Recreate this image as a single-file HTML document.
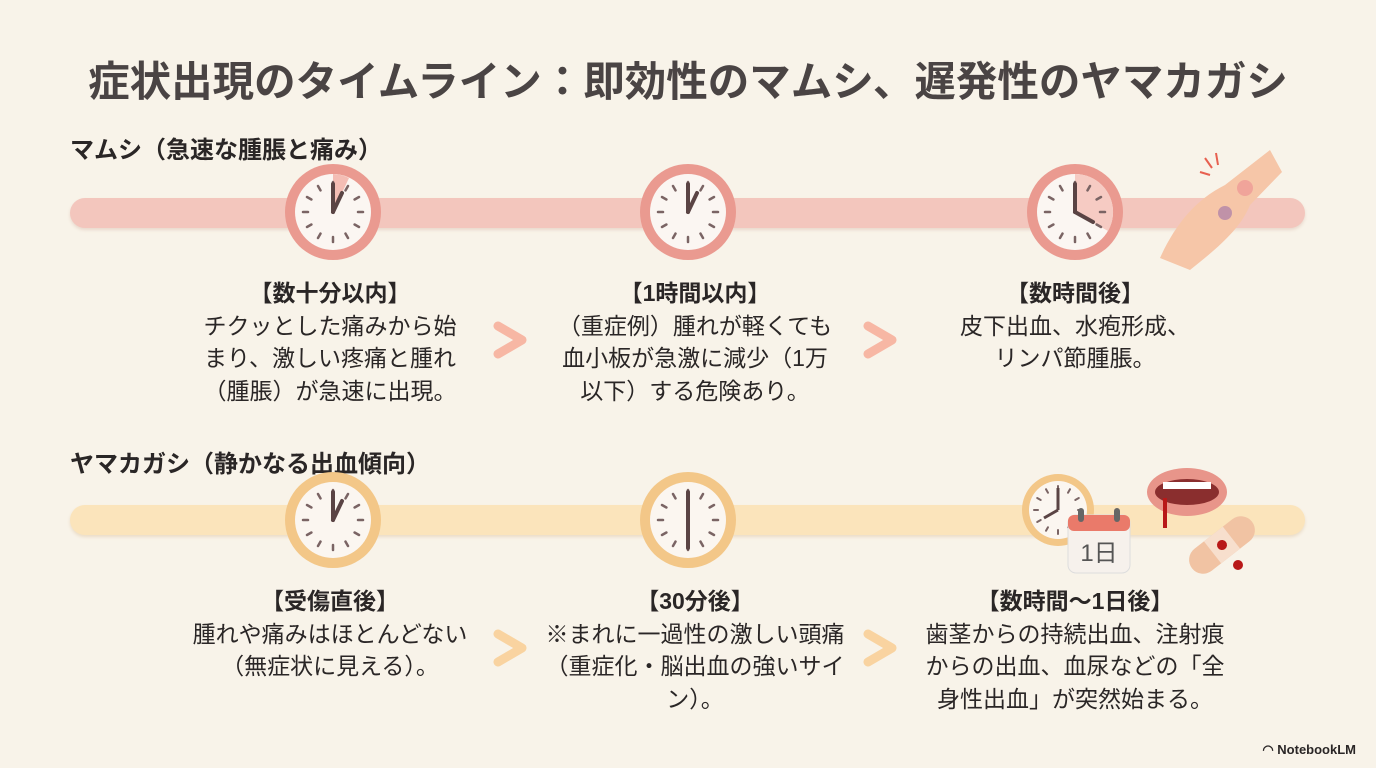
<!DOCTYPE html>
<html><head><meta charset="utf-8"><style>
body{margin:0;width:1376px;height:768px;background:#f8f3e9;font-family:"Liberation Sans","Noto Sans CJK JP",sans-serif;color:#2a2626;position:relative;overflow:hidden}
.a{position:absolute}
h1{position:absolute;left:0;width:1376px;top:48px;margin:0;text-align:center;font-size:41.5px;font-weight:bold;color:#4a4444;letter-spacing:0px}
.sec{font-size:24px;font-weight:bold;left:70px}
.bar{left:70px;width:1235px;height:30px;border-radius:15px}
.col{width:340px;text-align:center;font-size:23px;line-height:32.5px;white-space:nowrap}
.col b{display:block;font-size:23px}
.nb{right:20px;bottom:10px;font-size:13px;font-weight:bold}
</style></head><body>
<h1>症状出現のタイムライン：即効性のマムシ、遅発性のヤマカガシ</h1>
<div class="a sec" style="top:130px">マムシ（急速な腫脹と痛み）</div>
<div class="a sec" style="top:444px">ヤマカガシ（静かなる出血傾向）</div>
<div class="a bar" style="top:198px;background:#f3c6bd;box-shadow:0 2px 3px #e9d8cc"></div>
<div class="a bar" style="top:505px;background:#fbe4bb;box-shadow:0 2px 3px #ebdcc6"></div>

<svg class="a" style="left:0;top:0" width="1376" height="768">
<defs>
<g id="t"><g stroke="#7a6464" stroke-width="2.5" stroke-linecap="round">
<line x1="0" y1="-30" x2="0" y2="-25"/><line x1="0" y1="30" x2="0" y2="25"/><line x1="-30" y1="0" x2="-25" y2="0"/><line x1="30" y1="0" x2="25" y2="0"/>
<line x1="15" y1="-26" x2="12.5" y2="-21.6"/><line x1="26" y1="-15" x2="21.6" y2="-12.5"/><line x1="26" y1="15" x2="21.6" y2="12.5"/><line x1="15" y1="26" x2="12.5" y2="21.6"/>
<line x1="-15" y1="26" x2="-12.5" y2="21.6"/><line x1="-26" y1="15" x2="-21.6" y2="12.5"/><line x1="-26" y1="-15" x2="-21.6" y2="-12.5"/><line x1="-15" y1="-26" x2="-12.5" y2="-21.6"/></g></g>
</defs>
<g transform="translate(333,212)"><circle r="48" fill="#ea9a90"/><circle r="38" fill="#fbf6f2"/><path d="M0 0 L0 -38 A38 38 0 0 1 16 -34 Z" fill="#f4bdb4"/><use href="#t"/><line x1="0" y1="0" x2="0" y2="-28" stroke="#5a4444" stroke-width="4" stroke-linecap="round"/><line x1="0" y1="0" x2="9" y2="-19" stroke="#5a4444" stroke-width="4" stroke-linecap="round"/></g>
<g transform="translate(688,212)"><circle r="48" fill="#ea9a90"/><circle r="38" fill="#fbf6f2"/><use href="#t"/><line x1="0" y1="0" x2="0" y2="-28" stroke="#5a4444" stroke-width="4" stroke-linecap="round"/><line x1="0" y1="0" x2="9" y2="-19" stroke="#5a4444" stroke-width="4" stroke-linecap="round"/></g>
<g transform="translate(1075,212)"><circle r="48" fill="#ea9a90"/><circle r="38" fill="#fbf6f2"/><path d="M0 0 L0 -38 A38 38 0 0 1 33 19 Z" fill="#f6cbc3"/><use href="#t"/><line x1="0" y1="0" x2="0" y2="-28" stroke="#5a4444" stroke-width="4" stroke-linecap="round"/><line x1="0" y1="0" x2="18" y2="10" stroke="#5a4444" stroke-width="4" stroke-linecap="round"/></g>
<g transform="translate(333,520)"><circle r="48" fill="#f3c788"/><circle r="38" fill="#fbf6f0"/><use href="#t"/><line x1="0" y1="0" x2="0" y2="-28" stroke="#5a4444" stroke-width="4" stroke-linecap="round"/><line x1="0" y1="0" x2="9" y2="-19" stroke="#5a4444" stroke-width="4" stroke-linecap="round"/></g>
<g transform="translate(688,520)"><circle r="48" fill="#f3c788"/><circle r="38" fill="#fbf6f0"/><use href="#t"/><line x1="0" y1="-28" x2="0" y2="28" stroke="#5a4444" stroke-width="4" stroke-linecap="round"/></g>
<g transform="translate(1058,510)"><circle r="36" fill="#f3c788"/><circle r="29" fill="#fbf6f0"/><g transform="scale(0.8)"><use href="#t"/></g><line x1="0" y1="0" x2="0" y2="-22" stroke="#5a4444" stroke-width="3"/><line x1="0" y1="0" x2="-14" y2="8" stroke="#5a4444" stroke-width="3"/></g>
<rect x="1068" y="515" width="62" height="58" rx="8" fill="#f6f1ec" stroke="#ddd" />
<rect x="1068" y="515" width="62" height="16" rx="6" fill="#ea7a6a"/>
<rect x="1078" y="508" width="6" height="14" rx="3" fill="#666"/><rect x="1114" y="508" width="6" height="14" rx="3" fill="#666"/>
<text x="1099" y="561" text-anchor="middle" font-size="24" fill="#555" font-family="Liberation Sans,Noto Sans CJK JP,sans-serif">1日</text>
<ellipse cx="1187" cy="492" rx="40" ry="24" fill="#e8958a"/><ellipse cx="1187" cy="492" rx="32" ry="13" fill="#8a2e2e"/><rect x="1163" y="482" width="48" height="7" fill="#fff"/><path d="M1165 498 v30" stroke="#b81818" stroke-width="4"/>
<g transform="translate(1222,545) rotate(-38)"><rect x="-38" y="-14" width="76" height="28" rx="14" fill="#f1c3a3"/><rect x="-12" y="-14" width="24" height="28" fill="#f7dfcd"/><circle r="5" fill="#b81818"/></g>
<circle cx="1238" cy="565" r="5" fill="#b81818"/>
<path d="M1160 258 C1175 225 1195 200 1225 185 L1270 150 L1282 172 L1250 205 C1240 230 1215 250 1190 270 Z" fill="#f6c6a8"/>
<circle cx="1245" cy="188" r="8" fill="#f0a49a"/><circle cx="1225" cy="213" r="7" fill="#9c6fa8" opacity=".6"/>
<g stroke="#e76050" stroke-width="2"><line x1="1205" y1="158" x2="1212" y2="168"/><line x1="1216" y1="153" x2="1218" y2="165"/><line x1="1200" y1="172" x2="1210" y2="175"/></g>
<g fill="none" stroke-width="9" stroke-linecap="round" stroke-linejoin="round">
<polyline points="498,326 522,340 498,354" stroke="#f7b7a4"/>
<polyline points="868,326 892,340 868,354" stroke="#f7b7a4"/>
<polyline points="498,634 522,648 498,662" stroke="#f9d3a0"/>
<polyline points="868,634 892,648 868,662" stroke="#f9d3a0"/>
</g>
</svg>

<div class="a col" style="left:160px;top:277px"><b>【数十分以内】</b>チクッとした痛みから始<br>まり、激しい疼痛と腫れ<br>（腫脹）が急速に出現。</div>
<div class="a col" style="left:525px;top:277px"><b>【1時間以内】</b>（重症例）腫れが軽くても<br>血小板が急激に減少（1万<br>以下）する危険あり。</div>
<div class="a col" style="left:905px;top:277px"><b>【数時間後】</b>皮下出血、水疱形成、<br>リンパ節腫脹。</div>
<div class="a col" style="left:160px;top:585px"><b>【受傷直後】</b>腫れや痛みはほとんどない<br>（無症状に見える）。</div>
<div class="a col" style="left:525px;top:585px"><b>【30分後】</b>※まれに一過性の激しい頭痛<br>（重症化・脳出血の強いサイ<br>ン）。</div>
<div class="a col" style="left:905px;top:585px"><b>【数時間〜1日後】</b>歯茎からの持続出血、注射痕<br>からの出血、血尿などの「全<br>身性出血」が突然始まる。</div>
<div class="a nb">◠ NotebookLM</div>
</body></html>
